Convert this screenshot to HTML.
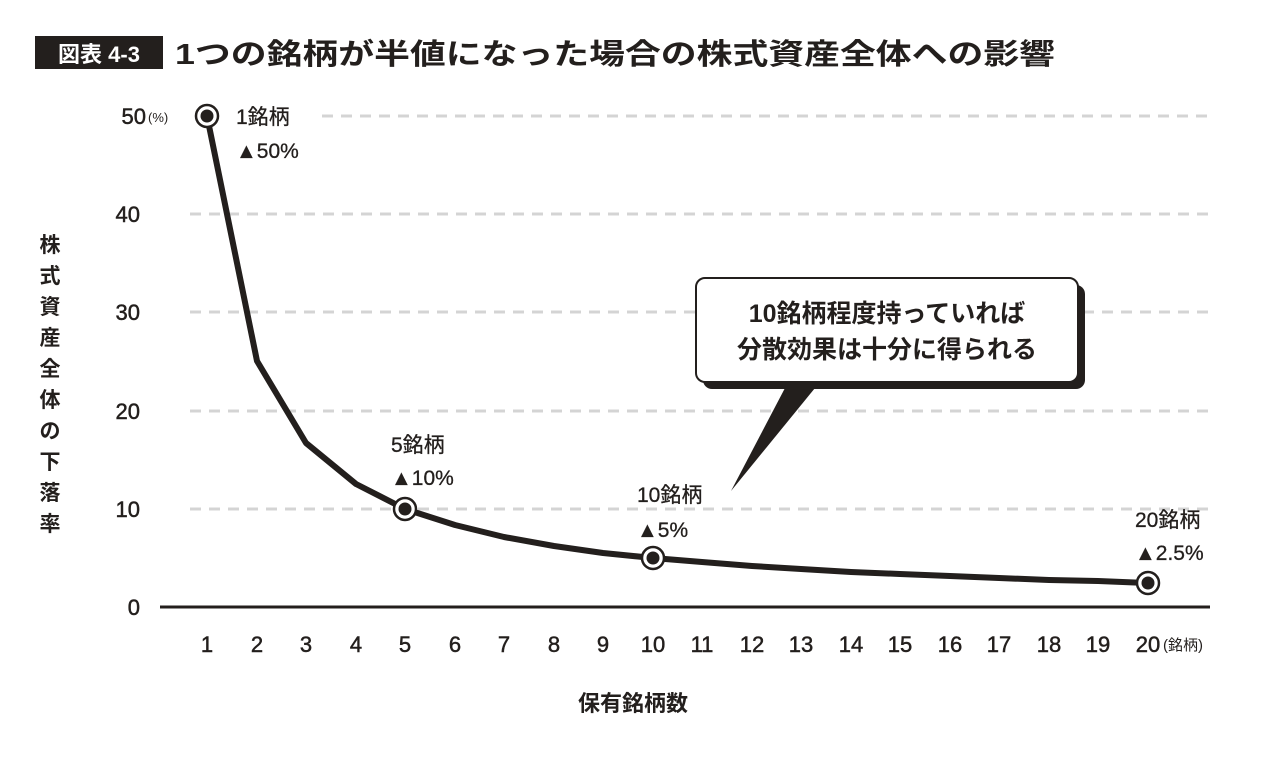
<!DOCTYPE html>
<html><head><meta charset="utf-8"><style>
body{margin:0;background:#fff;}
svg{display:block;font-family:"Liberation Sans","Noto Sans CJK JP",sans-serif;}
</style></head><body>
<svg width="1280" height="758" viewBox="0 0 1280 758">
<rect x="35" y="36" width="128" height="33" fill="#231f1d"/>
<text x="99" y="62" font-size="22" font-weight="bold" fill="#fff" text-anchor="middle">図表 4-3</text>
<text x="175" y="64" font-size="29" font-weight="bold" fill="#231f1d" textLength="880" lengthAdjust="spacingAndGlyphs">1つの銘柄が半値になった場合の株式資産全体への影響</text>
<g stroke="#d4d4d4" stroke-width="3" stroke-dasharray="11 8">
<line x1="322" y1="116" x2="1210" y2="116"/>
<line x1="190" y1="214" x2="1210" y2="214"/>
<line x1="190" y1="312" x2="1210" y2="312"/>
<line x1="190" y1="411" x2="1210" y2="411"/>
<line x1="190" y1="509" x2="1210" y2="509"/>
</g>
<line x1="160" y1="607" x2="1210" y2="607" stroke="#231f1d" stroke-width="3"/>
<g font-size="22" fill="#231f1d" text-anchor="end" stroke="#231f1d" stroke-width="0.5">
<text x="146" y="124">50</text><text x="140" y="222">40</text><text x="140" y="320">30</text><text x="140" y="419">20</text><text x="140" y="517">10</text><text x="140" y="615">0</text>
</g>
<text x="148" y="122" font-size="13" fill="#231f1d">(%)</text>
<g font-size="21" font-weight="bold" fill="#231f1d" text-anchor="middle">
<text x="50" y="252">株</text><text x="50" y="283">式</text><text x="50" y="314">資</text><text x="50" y="345">産</text><text x="50" y="376">全</text><text x="50" y="407">体</text><text x="50" y="438">の</text><text x="50" y="469">下</text><text x="50" y="500">落</text><text x="50" y="531">率</text>
</g>
<g font-size="22" fill="#231f1d" text-anchor="middle" stroke="#231f1d" stroke-width="0.5">
<text x="207" y="652">1</text><text x="257" y="652">2</text><text x="306" y="652">3</text><text x="356" y="652">4</text><text x="405" y="652">5</text><text x="455" y="652">6</text><text x="504" y="652">7</text><text x="554" y="652">8</text><text x="603" y="652">9</text><text x="653" y="652">10</text><text x="702" y="652">11</text><text x="752" y="652">12</text><text x="801" y="652">13</text><text x="851" y="652">14</text><text x="900" y="652">15</text><text x="950" y="652">16</text><text x="999" y="652">17</text><text x="1049" y="652">18</text><text x="1098" y="652">19</text><text x="1148" y="652">20</text>
</g>
<text x="1163" y="650" font-size="15" fill="#231f1d">(銘柄)</text>
<text x="633" y="711" font-size="22" font-weight="bold" fill="#231f1d" text-anchor="middle">保有銘柄数</text>
<polyline fill="none" stroke="#231f1d" stroke-width="6" stroke-linejoin="round" points="207,116 257,361 306,443 356,484 405,509 455,525 504,537 554,546 603,553 653,558 702,562 752,566 801,569 851,572 900,574 950,576 999,578 1049,580 1098,581 1148,583"/>
<g fill="#fff" stroke="#231f1d" stroke-width="2.5">
<circle cx="207" cy="116" r="11"/><circle cx="405" cy="509" r="11"/><circle cx="653" cy="558" r="11"/><circle cx="1148" cy="583" r="11"/>
</g>
<g fill="#231f1d">
<circle cx="207" cy="116" r="6.5"/><circle cx="405" cy="509" r="6.5"/><circle cx="653" cy="558" r="6.5"/><circle cx="1148" cy="583" r="6.5"/>
</g>
<g font-size="21" fill="#231f1d" stroke="#231f1d" stroke-width="0.3">
<text x="236" y="124">1銘柄</text><text x="236" y="158">▲50%</text>
<text x="391" y="452">5銘柄</text><text x="391" y="485">▲10%</text>
<text x="637" y="502">10銘柄</text><text x="637" y="537">▲5%</text>
<text x="1135" y="527">20銘柄</text><text x="1135" y="560">▲2.5%</text>
</g>
<rect x="703" y="285" width="382" height="104" rx="9" fill="#231f1d"/>
<polygon points="785,388 815,388 731,491" fill="#231f1d"/>
<rect x="696" y="278" width="382" height="104" rx="9" fill="#fff" stroke="#231f1d" stroke-width="2"/>
<g font-size="25" font-weight="bold" fill="#231f1d" text-anchor="middle">
<text x="887" y="322">10銘柄程度持っていれば</text>
<text x="887" y="358">分散効果は十分に得られる</text>
</g>
</svg>
</body></html>
